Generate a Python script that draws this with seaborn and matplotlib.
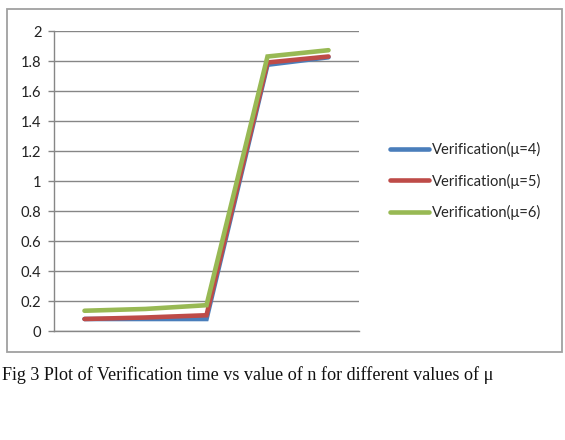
import matplotlib
matplotlib.use("Agg")
import matplotlib.pyplot as plt
import seaborn as sns
import pandas as pd
import numpy as np
from matplotlib.patches import Rectangle
from matplotlib.lines import Line2D

# ---- data ----
categories = [1, 2, 3, 4, 5]
series_names = ["Verification(μ=4)", "Verification(μ=5)", "Verification(μ=6)"]
mu4 = [0.08, 0.08, 0.08, 1.775, 1.825]
mu5 = [0.08, 0.09, 0.105, 1.79, 1.83]
mu6 = [0.135, 0.147, 0.172, 1.83, 1.872]
y_ticks = [0, 0.2, 0.4, 0.6, 0.8, 1, 1.2, 1.4, 1.6, 1.8, 2]
y_tick_labels = ["0", "0.2", "0.4", "0.6", "0.8", "1", "1.2", "1.4", "1.6", "1.8", "2"]
colors = ["#4A7EBB", "#BE4B48", "#98B954"]
caption = "Fig 3 Plot of Verification time vs value of n for different values of μ"

rows = []
for name, vals in zip(series_names, [mu4, mu5, mu6]):
    for i, v in enumerate(vals):
        rows.append({"pos": i, "value": v, "series": name})
df = pd.DataFrame(rows)

sns.set_style("white")
plt.rcParams['font.family'] = ['Lato', 'DejaVu Sans']

W, H = 565, 440
fig = plt.figure(figsize=(W / 100, H / 100), dpi=100)

# outer chart border
fig.patches.append(Rectangle((6.5 / W, 1 - 352 / H), (562 - 6.5) / W, (352 - 9.5) / H,
                             transform=fig.transFigure, fill=False,
                             edgecolor="#A0A0A0", linewidth=1.3, zorder=0))

ax = fig.add_axes([54 / W, 1 - 331 / H, 305 / W, 300 / H])
sns.lineplot(data=df, x="pos", y="value", hue="series", palette=colors,
             linewidth=3.3, ax=ax, legend=False, solid_capstyle="round",
             solid_joinstyle="miter")

ax.set_xlim(-0.5, 4.5)
ax.set_ylim(0, 2)
ax.set_yticks(y_ticks)
ax.set_yticklabels(y_tick_labels, fontsize=10.6, color="#222222")
ax.set_xticks([])
ax.set_xlabel("")
ax.set_ylabel("")
ax.yaxis.grid(True, color="#868686", linewidth=1.0)
ax.set_axisbelow(True)
for s in ["top", "right"]:
    ax.spines[s].set_visible(False)
for s in ["left", "bottom"]:
    ax.spines[s].set_color("#868686")
    ax.spines[s].set_linewidth(1.0)
ax.tick_params(axis="y", length=4, width=1.0, color="#868686", pad=5, left=True)

# legend
handles = [Line2D([0], [0], color=c, linewidth=3.3, solid_capstyle="round") for c in colors]
fig.legend(handles, series_names, loc="center left",
           bbox_to_anchor=(383 / W, 1 - 181 / H), frameon=False,
           fontsize=10.6, handlelength=2.6, handletextpad=0.25,
           labelspacing=1.11, borderpad=0)

# caption
fig.text(2 / W, 1 - 375 / H, caption, fontsize=13.05, family=["Liberation Serif", "DejaVu Serif"],
         va="center", ha="left", color="#111111")

fig.savefig("out.png", dpi=100)
